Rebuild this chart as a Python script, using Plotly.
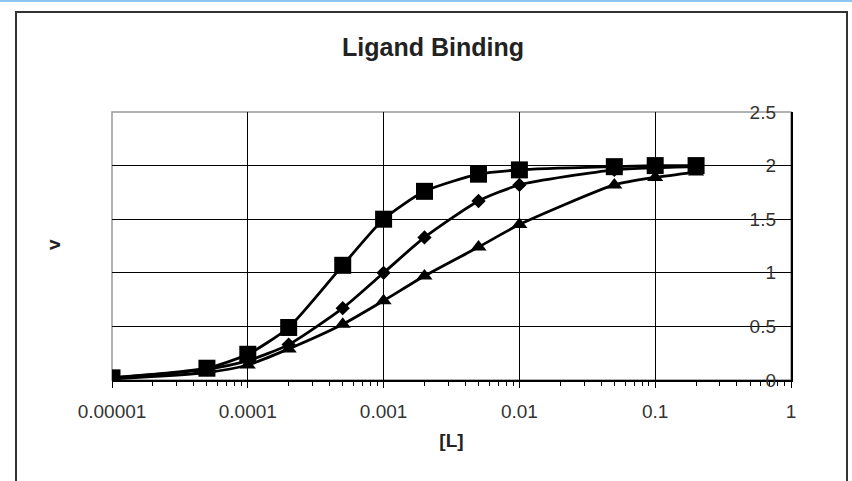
import plotly.graph_objects as go

L = [0.00001, 0.00005, 0.0001, 0.0002, 0.0005, 0.001, 0.002, 0.005, 0.01, 0.05, 0.1, 0.2]
v_square = [0.02, 0.11, 0.24, 0.49, 1.07, 1.50, 1.76, 1.92, 1.96, 1.99, 2.00, 2.00]
v_diamond = [0.02, 0.10, 0.18, 0.33, 0.67, 1.00, 1.33, 1.67, 1.82, 1.96, 1.98, 1.99]
v_triangle = [0.01, 0.07, 0.14, 0.29, 0.52, 0.74, 0.97, 1.24, 1.45, 1.82, 1.89, 1.94]

x_tickvals = [1e-5, 1e-4, 1e-3, 1e-2, 1e-1, 1]
x_ticktext = ["0.00001", "0.0001", "0.001", "0.01", "0.1", "1"]
x_minor = [m * 10.0 ** e for e in range(-5, 0) for m in range(2, 10)]
y_tickvals = [0, 0.5, 1, 1.5, 2, 2.5]
y_ticktext = ["0", "0.5", "1", "1.5", "2", "2.5"]

W, H = 852, 481
ML, MR, MT, MB = 112, 61, 112, 101
PW, PH = W - ML - MR, H - MT - MB

def px_x(p):
    return (p - ML) / PW

def px_y(p):
    return (H - MB - p) / PH

FONT = "Liberation Sans, Arial, sans-serif"

fig = go.Figure()
series = [
    (v_triangle, "triangle-up", 14, "y"),
    (v_diamond, "diamond", 11, "y"),
    (v_square, "square", 17, "y2"),
]
for vals, sym, size, yax in series:
    fig.add_trace(go.Scatter(
        x=L, y=vals, mode="lines+markers", yaxis=yax,
        line=dict(color="black", width=2.8, shape="spline", smoothing=0.6),
        marker=dict(symbol=sym, size=size, color="black"),
        showlegend=False, hoverinfo="x+y",
    ))

fig.update_layout(
    width=W, height=H,
    margin=dict(l=ML, r=MR, t=MT, b=MB),
    paper_bgcolor="white", plot_bgcolor="white",
    font=dict(family=FONT, color="#333333", size=20),
    title=dict(text="<b>Ligand Binding</b>", x=px_x(433), xref="paper",
               xanchor="center", y=1 - 47 / H, yanchor="middle",
               font=dict(size=25, color="#222222")),
    xaxis=dict(
        type="log", range=[-5, 0],
        tickmode="array", tickvals=x_tickvals, ticktext=x_ticktext,
        ticks="outside", ticklen=6, tickcolor="black", tickwidth=1.3,
        ticklabelstandoff=7,
        tickfont=dict(size=19, color="#333333"),
        showgrid=True, gridcolor="black", gridwidth=1.4,
        showline=True, linecolor="black", linewidth=1.6,
        minor=dict(tickvals=x_minor, ticks="outside", ticklen=4, tickcolor="black", showgrid=False),
        title=dict(text="<b>[L]</b>", font=dict(size=19, color="#222222"), standoff=13),
        zeroline=False,
    ),
    yaxis=dict(
        range=[0, 2.5], side="right",
        tickmode="array", tickvals=y_tickvals,
        showticklabels=False, ticks="",
        showgrid=True, gridcolor="black", gridwidth=1.4,
        showline=True, linecolor="black", linewidth=1.6,
        zeroline=False,
    ),
    yaxis2=dict(
        range=[0, 2.5], overlaying="y", side="left", anchor="free",
        position=px_x(776),
        tickmode="array", tickvals=y_tickvals, ticktext=y_ticktext,
        tickfont=dict(size=19, color="#333333"),
        ticks="", showgrid=False, showline=False, zeroline=False,
    ),
    shapes=[
        dict(type="rect", xref="paper", yref="paper", x0=0, x1=1, y0=0, y1=1,
             line=dict(color="#999999", width=1.5), layer="below"),
        dict(type="rect", xref="paper", yref="paper",
             x0=px_x(16), x1=px_x(847), y0=px_y(12), y1=px_y(495),
             line=dict(color="#333333", width=2)),
        dict(type="line", xref="paper", yref="paper",
             x0=px_x(0), x1=px_x(852), y0=px_y(1), y1=px_y(1),
             line=dict(color="#8cc4f5", width=2)),
    ],
    annotations=[
        dict(text="<b>v</b>", xref="paper", yref="paper", x=px_x(53), y=px_y(245),
             showarrow=False, textangle=-90, font=dict(size=19, color="#222222"),
             xanchor="center", yanchor="middle"),
    ],
)

fig.write_html(
    "out.html",
    config={"displayModeBar": False},
    post_script="document.body.style.margin='0px';document.body.style.overflow='hidden';",
)
